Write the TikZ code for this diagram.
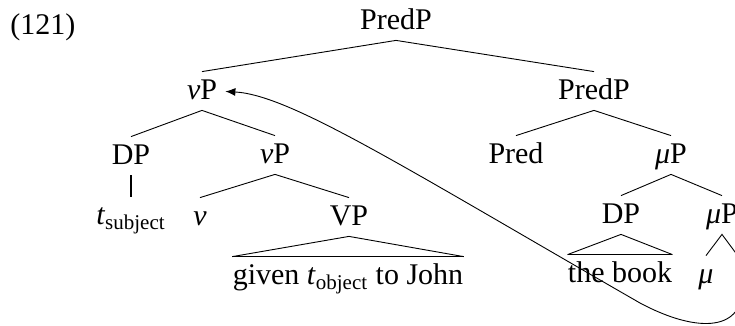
\documentclass[tikz,border=0pt]{standalone}
\usepackage{fontspec}
\setmainfont{Liberation Serif}
\usetikzlibrary{arrows.meta}

\begin{document}
\begin{tikzpicture}[x=0.5pt, y=-0.5pt,
    lbl/.style={inner sep=0pt, text height=14pt, text depth=5pt, font=\fontsize{15}{18}\selectfont},
    branch/.style={line width=0.45pt},
    roof/.style={line width=0.9pt},
    move/.style={line width=0.45pt, -{Latex[length=5pt,width=4pt]}, shorten >=4pt}]
  \useasboundingbox (0,0) rectangle (735,326);
  \node[lbl, anchor=base west] (ex) at (10,35) {(121)};

  % top of the tree
  \node[lbl] (PredP) at (396,21) {PredP};
  \node[lbl] (vP) at (202,91) {\textit{v}P};
  \node[lbl] (PredPb) at (594,91) {PredP};

  % left branch
  \node[lbl] (DPa) at (131,156) {DP};
  \node[lbl] (vPb) at (275,155) {\textit{v}P};
  \node[lbl] (tsubj) at (131,216) {\textit{t}\textsubscript{subject}};
  \node[lbl] (v) at (200,217) {\textit{v}};
  \node[lbl] (VP) at (349,217) {VP};
  \node[lbl] (given) at (348,276) {given \textit{t}\textsubscript{object} to John};

  % right branch
  \node[lbl] (Pred) at (516,155) {Pred};
  \node[lbl] (muP) at (671,155) {\textit{μ}P};
  \node[lbl] (DPb) at (621,215) {DP};
  \node[lbl] (muPb) at (722,215) {\textit{μ}P};
  \node[lbl] (book) at (620,274) {the book};
  \node[lbl] (mu) at (706,275) {\textit{μ}};
  \coordinate (muPc) at (738,256);
  \coordinate (tvP) at (742,285);

  \draw[branch] (vP.north) -- (PredP.south) -- (PredPb.north);
  \draw[branch] (DPa.north) -- (vP.south) -- (vPb.north);
  \draw[roof] (DPa.south) -- (tsubj.north);
  \draw[branch] (v.north) -- (vPb.south) -- (VP.north);
  \draw[branch] (given.north west) -- (VP.south) -- (given.north east);
  \draw[roof] (given.north west) -- (given.north east);
  \draw[branch] (Pred.north) -- (PredPb.south) -- (muP.north);
  \draw[branch] (DPb.north) -- (muP.south) -- (muPb.north);
  \draw[branch] (book.north west) -- (DPb.south) -- (book.north east);
  \draw[roof] (book.north west) -- (book.north east);
  \draw[branch] (mu.north) -- (muPb.south) -- (muPc);

  % movement
  \draw[move] (tvP) .. controls (745,330) and (700,335) .. (640,303)
    .. controls (400,165) and (290,95) .. (vP.east);
\end{tikzpicture}
\end{document}
